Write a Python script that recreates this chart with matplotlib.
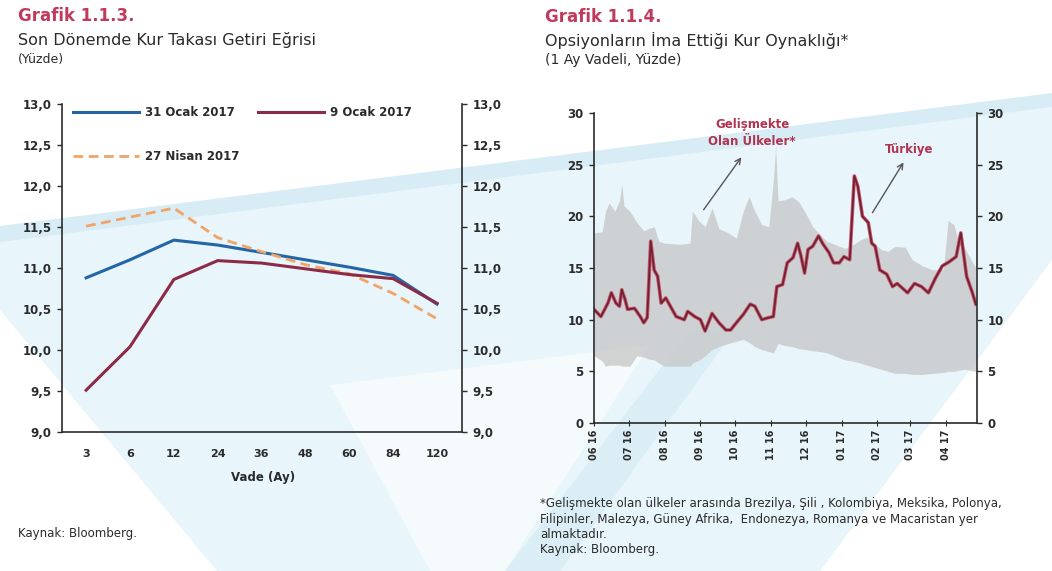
import pandas as pd
import matplotlib
matplotlib.use("Agg")
import matplotlib.pyplot as plt
import matplotlib.dates as mdates
from matplotlib.patches import Polygon
from matplotlib.ticker import FuncFormatter, MultipleLocator

# Grafik 1.1.3 - kur takasi getiri egrisi (yuzde)
vade = ["3", "6", "12", "24", "36", "48", "60", "84", "120"]
ocak31 = [10.88, 11.10, 11.34, 11.28, 11.19, 11.10, 11.01, 10.91, 10.56]
ocak9 = [9.51, 10.04, 10.86, 11.09, 11.06, 10.99, 10.92, 10.87, 10.57]
nisan27 = [11.51, 11.62, 11.73, 11.37, 11.20, 11.04, 10.93, 10.69, 10.38]

# Grafik 1.1.4 - Turkiye ima edilen oynaklik (1 ay)
tr_tarih = ["2016-06-01", "2016-06-07", "2016-06-13", "2016-06-16", "2016-06-20",
            "2016-06-23", "2016-06-25", "2016-06-28", "2016-06-30", "2016-07-06",
            "2016-07-11", "2016-07-14", "2016-07-17", "2016-07-20", "2016-07-23",
            "2016-07-26", "2016-07-29", "2016-08-02", "2016-08-06", "2016-08-11",
            "2016-08-18", "2016-08-21", "2016-08-27", "2016-09-01", "2016-09-05",
            "2016-09-11", "2016-09-17", "2016-09-23", "2016-09-27", "2016-10-02",
            "2016-10-08", "2016-10-14", "2016-10-18", "2016-10-24", "2016-10-30",
            "2016-11-03", "2016-11-06", "2016-11-11", "2016-11-15", "2016-11-20",
            "2016-11-24", "2016-11-27", "2016-11-30", "2016-12-03", "2016-12-07",
            "2016-12-12", "2016-12-16", "2016-12-21", "2016-12-25", "2016-12-30",
            "2017-01-03", "2017-01-08", "2017-01-12", "2017-01-15", "2017-01-19",
            "2017-01-24", "2017-01-27", "2017-01-30", "2017-02-03", "2017-02-09",
            "2017-02-14", "2017-02-18", "2017-02-27", "2017-03-05", "2017-03-11",
            "2017-03-17", "2017-03-23", "2017-03-29", "2017-04-04", "2017-04-10",
            "2017-04-14", "2017-04-19", "2017-04-24", "2017-04-27"]
turkiye = [11.0, 10.3, 11.6, 12.6, 11.6, 11.3, 12.9, 11.9, 11.0, 11.1,
           10.3, 9.7, 10.2, 17.6, 14.8, 14.2, 11.6, 12.1, 11.3, 10.3,
           10.0, 10.8, 10.3, 10.0, 8.9, 10.6, 9.7, 9.0, 9.0, 9.7,
           10.5, 11.5, 11.3, 10.0, 10.2, 10.3, 13.2, 13.4, 15.5, 16.0,
           17.4, 16.1, 14.5, 16.8, 17.1, 18.1, 17.3, 16.5, 15.5, 15.5,
           16.1, 15.8, 23.9, 22.9, 20.0, 19.4, 17.4, 17.1, 14.8, 14.4,
           13.2, 13.5, 12.6, 13.5, 13.2, 12.6, 14.0, 15.2, 15.6, 16.1,
           18.4, 14.2, 12.6, 11.5]

# gelismekte olan ulkeler: en dusuk / en yuksek
gou_tarih = ["2016-06-01", "2016-06-08", "2016-06-11", "2016-06-14", "2016-06-19",
             "2016-06-23", "2016-06-25", "2016-06-27", "2016-07-02", "2016-07-08",
             "2016-07-14", "2016-07-18", "2016-07-23", "2016-07-27", "2016-08-01",
             "2016-08-13", "2016-08-23", "2016-08-25", "2016-08-31", "2016-09-05",
             "2016-09-11", "2016-09-17", "2016-09-25", "2016-10-02", "2016-10-08",
             "2016-10-13", "2016-10-18", "2016-10-24", "2016-10-30", "2016-11-03",
             "2016-11-05", "2016-11-07", "2016-11-13", "2016-11-19", "2016-11-25",
             "2016-12-01", "2016-12-07", "2016-12-13", "2016-12-19", "2016-12-28",
             "2017-01-04", "2017-01-10", "2017-01-17", "2017-01-23", "2017-01-29",
             "2017-02-04", "2017-02-10", "2017-02-16", "2017-02-25", "2017-03-03",
             "2017-03-12", "2017-03-21", "2017-03-30", "2017-04-03", "2017-04-08",
             "2017-04-12", "2017-04-17", "2017-04-22", "2017-04-27"]
gou_ust = [18.4, 18.5, 20.5, 21.3, 20.5, 21.5, 23.1, 21.0, 20.5, 19.4,
           18.6, 18.8, 19.0, 17.6, 17.4, 17.3, 17.4, 20.5, 19.5, 19.0,
           20.8, 18.8, 18.4, 17.9, 20.5, 21.9, 20.5, 19.2, 19.0, 23.5,
           26.8, 21.5, 21.6, 21.9, 21.4, 20.3, 19.0, 18.3, 17.6, 17.2,
           16.9, 17.2, 17.7, 18.0, 17.4, 16.8, 16.6, 17.1, 17.0, 15.8,
           15.2, 14.8, 14.9, 19.6, 19.2, 17.6, 17.0, 16.0, 15.0]
gou_alt = [6.5, 6.0, 5.5, 5.6, 5.6, 5.6, 5.5, 5.5, 5.5, 6.5,
           6.4, 6.2, 6.1, 5.8, 5.5, 5.5, 5.5, 5.8, 6.1, 6.5,
           7.1, 7.4, 7.7, 7.9, 8.1, 7.8, 7.4, 7.1, 6.9, 6.8,
           7.2, 7.7, 7.5, 7.4, 7.2, 7.1, 7.0, 6.9, 6.8, 6.4,
           6.1, 6.0, 5.8, 5.6, 5.4, 5.2, 5.0, 4.8, 4.8, 4.7,
           4.7, 4.8, 4.9, 5.0, 5.0, 5.1, 5.2, 5.1, 5.0]

W, H = 1052, 571


def fx(x):
    return x / W


def fy(y):
    return 1 - y / H


def poly(pts, color):
    fig.add_artist(Polygon([(fx(a), fy(b)) for a, b in pts], closed=True,
                           transform=fig.transFigure, facecolor=color,
                           edgecolor="none", zorder=-10))


fig = plt.figure(figsize=(W / 100, H / 100), dpi=100)
fig.patch.set_facecolor("white")

# arka plandaki filigran
poly([(0, 240), (W, 107), (W, 260), (820, H), (217, H), (0, 310)], "#e8f5fa")
poly([(0, 226), (W, 93), (W, 107), (0, 242)], "#d7ecf5")
poly([(330, 385), (650, 345), (505, H), (430, H)], "#f5fafc")
poly([(505, H), (560, H), (735, 330), (690, 330)], "#dbeef6")

koyu = "#2b2b2b"
baslik_renk = "#c03a5c"
virgul = FuncFormatter(lambda v, p: f"{v:.1f}".replace(".", ","))

# ---------- Grafik 1.1.3 ----------
fig.text(fx(18), fy(16), "Grafik 1.1.3.", color=baslik_renk, fontsize=12,
         fontweight="bold", va="center")
fig.text(fx(18), fy(40), "Son Dönemde Kur Takası Getiri Eğrisi", color=koyu,
         fontsize=11.5, va="center")
fig.text(fx(18), fy(60), "(Yüzde)", color=koyu, fontsize=9, va="center")

ax1 = fig.add_axes([fx(62), fy(432), (462 - 62) / W, (432 - 104) / H])
ax1.patch.set_alpha(0)
xs = range(len(vade))
l1, = ax1.plot(xs, ocak31, color="#2465a6", lw=2.2, label="31 Ocak 2017")
l3, = ax1.plot(xs, nisan27, color="#f0a468", lw=2.0, ls=(0, (3.5, 2)),
               label="27 Nisan 2017")
l2, = ax1.plot(xs, ocak9, color="#8c2b47", lw=2.2, label="9 Ocak 2017")
ax1.set_xlim(-0.55, 8.57)
ax1.set_ylim(9, 13)
ax1.set_xticks(list(xs))
ax1.set_xticklabels(vade)
ax1.yaxis.set_major_locator(MultipleLocator(0.5))
ax1.yaxis.set_major_formatter(virgul)
ax1.tick_params(axis="x", length=0, pad=12, labelsize=8, colors=koyu)
ax1.tick_params(axis="y", left=True, right=True, labelleft=True, labelright=True,
                length=3.5, width=1, labelsize=8.5, colors=koyu, pad=4)
for lab in ax1.get_xticklabels() + ax1.get_yticklabels():
    lab.set_fontweight("bold")
ax1.spines["top"].set_visible(False)
for s in ["left", "right", "bottom"]:
    ax1.spines[s].set_color(koyu)
    ax1.spines[s].set_linewidth(1.2)
ax1.legend(handles=[l1, l3, l2], ncol=2, loc="upper left", frameon=False,
           bbox_to_anchor=(fx(73), fy(106)), bbox_transform=fig.transFigure,
           borderpad=0, borderaxespad=0, handlelength=5.6, handletextpad=0.5,
           columnspacing=1.6, labelspacing=2.6,
           prop={"weight": "bold", "size": 8.5}, labelcolor=koyu)
fig.text(fx(263), fy(478), "Vade (Ay)", ha="center", va="center", fontsize=8.5,
         fontweight="bold", color=koyu)
fig.text(fx(18), fy(533), "Kaynak: Bloomberg.", fontsize=8.5, color=koyu,
         va="center")

# ---------- Grafik 1.1.4 ----------
fig.text(fx(545), fy(17), "Grafik 1.1.4.", color=baslik_renk, fontsize=12,
         fontweight="bold", va="center")
fig.text(fx(545), fy(40), "Opsiyonların İma Ettiği Kur Oynaklığı*", color=koyu,
         fontsize=11.5, va="center")
fig.text(fx(545), fy(60), "(1 Ay Vadeli, Yüzde)", color=koyu, fontsize=10,
         va="center")

ax2 = fig.add_axes([fx(594), fy(423), (977 - 594) / W, (423 - 113) / H])
ax2.patch.set_alpha(0)
ax2.fill_between(pd.to_datetime(gou_tarih), gou_alt, gou_ust, color="#c6c6c6",
                 alpha=0.75, lw=0)
ax2.plot(pd.to_datetime(tr_tarih), turkiye, color="#c9586e", lw=2.6)
ax2.plot(pd.to_datetime(tr_tarih), turkiye, color="#6e2233", lw=1.3)
ax2.set_xlim(pd.Timestamp("2016-06-01"), pd.Timestamp("2017-04-28"))
ax2.set_ylim(0, 30)
ax2.yaxis.set_major_locator(MultipleLocator(5))
ax2.xaxis.set_major_locator(mdates.MonthLocator())
ax2.xaxis.set_major_formatter(mdates.DateFormatter("%m %y"))
ax2.tick_params(axis="x", direction="inout", length=4, labelsize=7,
                labelrotation=90, colors=koyu, pad=3)
ax2.tick_params(axis="y", left=True, right=True, labelleft=True, labelright=True,
                length=3.5, width=1, labelsize=8.5, colors=koyu, pad=4)
for lab in ax2.get_xticklabels() + ax2.get_yticklabels():
    lab.set_fontweight("bold")
ax2.spines["top"].set_visible(False)
for s in ["left", "right", "bottom"]:
    ax2.spines[s].set_color(koyu)
    ax2.spines[s].set_linewidth(1.2)

ok = dict(arrowstyle="->", color="#555555", lw=1.0)
ax2.annotate("", xy=(fx(743), fy(155)), xytext=(fx(702), fy(212)),
             xycoords="figure fraction", arrowprops=ok)
fig.text(fx(752), fy(133), "Gelişmekte\nOlan Ülkeler*", ha="center", va="center",
         fontsize=8.5, fontweight="bold", color="#b03450", linespacing=1.45)
ax2.annotate("", xy=(fx(905), fy(160)), xytext=(fx(871), fy(215)),
             xycoords="figure fraction", arrowprops=ok)
fig.text(fx(909), fy(150), "Türkiye", ha="center", va="center", fontsize=8.5,
         fontweight="bold", color="#b03450")

dipnot = ("*Gelişmekte olan ülkeler arasında Brezilya, Şili , Kolombiya, Meksika, Polonya,\n"
          "Filipinler, Malezya, Güney Afrika,  Endonezya, Romanya ve Macaristan yer\n"
          "almaktadır.\n"
          "Kaynak: Bloomberg.")
fig.text(fx(540), fy(497), dipnot, fontsize=8.5, color=koyu, va="top",
         linespacing=1.25)

fig.savefig("out.png", dpi=100)
